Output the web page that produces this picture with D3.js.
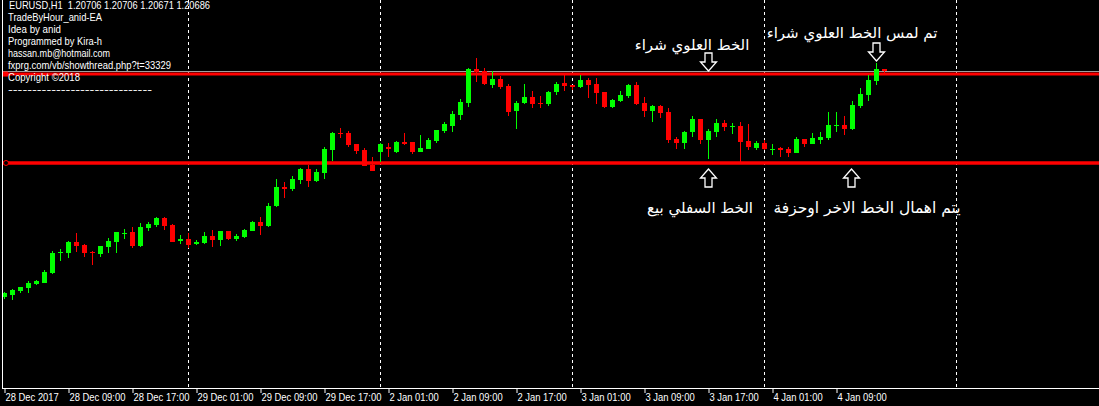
<!DOCTYPE html>
<html>
<head>
<meta charset="utf-8">
<script src="https://cdn.jsdelivr.net/npm/d3@7"></script>
<style>
body { margin: 0; background: #000; overflow: hidden; }
svg { display: block; }
</style>
</head>
<body>
<svg width="1099" height="406"></svg>
<script>
var svg = d3.select("svg");
var width = +svg.attr("width");
var plotBottom = 388;

// hourly sessions shown on the chart (day, first hour, last hour)
var sessions = [["28 Dec", 1, 23], ["29 Dec", 0, 23], ["2 Jan", 0, 23], ["3 Jan", 0, 23], ["4 Jan", 0, 15]];

var opens = [1.18805,1.18822,1.18855,1.18880,1.18913,1.18922,1.19005,1.19172,1.19172,1.19263,1.19238,1.19180,1.19163,1.19222,1.19263,1.19330,1.19347,1.19230,1.19380,1.19405,1.19463,1.19405,1.19272,
  1.19288,1.19247,1.19255,1.19313,1.19280,1.19355,1.19288,1.19305,1.19355,1.19430,1.19397,1.19563,1.19722,1.19705,1.19780,1.19872,1.19772,1.19838,1.20030,1.20172,1.20172,1.20080,1.20030,1.19905,
  1.20013,1.20055,1.20013,1.20097,1.20097,1.20013,1.20038,1.20105,1.20188,1.20230,1.20322,1.20422,1.20705,1.20688,1.20572,1.20622,1.20563,1.20355,1.20422,1.20472,1.20422,1.20413,1.20513,1.20588,
  1.20572,1.20555,1.20613,1.20580,1.20513,1.20388,1.20438,1.20480,1.20572,1.20422,1.20355,1.20397,1.20347,1.20122,1.20088,1.20180,1.20288,1.20113,1.20180,1.20255,1.20222,1.20230,1.20105,1.20047,
  1.20088,1.20030,1.20047,1.20038,1.20005,1.20122,1.20080,1.20113,1.20130,1.20230,1.20238,1.20205,1.20397,1.20488,1.20605,1.20706];
var highs = [1.18847,1.18872,1.18888,1.18938,1.18947,1.19030,1.19188,1.19205,1.19272,1.19338,1.19247,1.19188,1.19230,1.19297,1.19347,1.19372,1.19388,1.19422,1.19430,1.19472,1.19472,1.19413,1.19322,
  1.19338,1.19280,1.19347,1.19363,1.19355,1.19355,1.19330,1.19372,1.19438,1.19472,1.19588,1.19788,1.19763,1.19813,1.19880,1.19905,1.19872,1.20055,1.20180,1.20213,1.20188,1.20080,1.20047,1.19972,
  1.20088,1.20088,1.20105,1.20172,1.20097,1.20155,1.20130,1.20197,1.20263,1.20355,1.20455,1.20713,1.20797,1.20713,1.20688,1.20647,1.20580,1.20438,1.20580,1.20522,1.20480,1.20522,1.20597,1.20655,
  1.20572,1.20655,1.20630,1.20630,1.20513,1.20455,1.20522,1.20580,1.20597,1.20472,1.20405,1.20405,1.20380,1.20138,1.20188,1.20313,1.20288,1.20205,1.20288,1.20280,1.20255,1.20263,1.20247,1.20105,
  1.20113,1.20080,1.20055,1.20055,1.20138,1.20122,1.20172,1.20180,1.20347,1.20347,1.20313,1.20438,1.20547,1.20655,1.20755,1.20706];
var lows = [1.18788,1.18780,1.18838,1.18838,1.18905,1.18922,1.18997,1.19105,1.19130,1.19180,1.19138,1.19072,1.19138,1.19172,1.19172,1.19288,1.19213,1.19222,1.19355,1.19388,1.19363,1.19263,1.19247,
  1.19213,1.19238,1.19247,1.19222,1.19230,1.19280,1.19272,1.19297,1.19355,1.19322,1.19388,1.19555,1.19630,1.19688,1.19747,1.19722,1.19763,1.19788,1.19938,1.20130,1.20055,1.19997,1.19897,1.19855,
  1.19930,1.19972,1.20005,1.20072,1.19997,1.20013,1.20038,1.20088,1.20172,1.20180,1.20280,1.20388,1.20597,1.20572,1.20547,1.20538,1.20313,1.20205,1.20413,1.20380,1.20380,1.20397,1.20488,1.20522,
  1.20530,1.20547,1.20463,1.20413,1.20380,1.20380,1.20430,1.20463,1.20405,1.20305,1.20263,1.20297,1.20088,1.20038,1.20038,1.20138,1.20080,1.19955,1.20138,1.20188,1.20163,1.19930,1.20030,1.20030,
  1.20030,1.19988,1.19972,1.19972,1.20005,1.20055,1.20080,1.20080,1.20113,1.20180,1.20155,1.20197,1.20380,1.20438,1.20572,1.20671];
var closes = [1.18838,1.18863,1.18888,1.18922,1.18938,1.19013,1.19172,1.19180,1.19263,1.19230,1.19172,1.19172,1.19230,1.19272,1.19347,1.19338,1.19230,1.19388,1.19413,1.19463,1.19397,1.19263,1.19288,
  1.19238,1.19263,1.19313,1.19280,1.19355,1.19288,1.19313,1.19363,1.19430,1.19397,1.19563,1.19722,1.19705,1.19788,1.19872,1.19772,1.19847,1.20038,1.20172,1.20163,1.20072,1.20022,1.19897,1.19855,
  1.20080,1.20038,1.20097,1.20080,1.20013,1.20047,1.20113,1.20197,1.20247,1.20330,1.20430,1.20705,1.20680,1.20580,1.20622,1.20555,1.20347,1.20422,1.20472,1.20413,1.20413,1.20513,1.20580,1.20563,
  1.20555,1.20613,1.20572,1.20505,1.20388,1.20447,1.20488,1.20572,1.20413,1.20355,1.20397,1.20338,1.20113,1.20088,1.20180,1.20288,1.20113,1.20188,1.20255,1.20222,1.20230,1.20097,1.20055,1.20088,
  1.20038,1.20038,1.20030,1.20005,1.20122,1.20080,1.20130,1.20138,1.20238,1.20238,1.20205,1.20405,1.20497,1.20613,1.20705,1.20686];

var tickTimes = ["28 Dec 01:00","28 Dec 09:00","28 Dec 17:00","29 Dec 01:00","29 Dec 09:00","29 Dec 17:00","2 Jan 01:00","2 Jan 09:00","2 Jan 17:00","3 Jan 01:00","3 Jan 09:00","3 Jan 17:00","4 Jan 01:00","4 Jan 09:00"];
var tickLabels = ["28 Dec 2017","28 Dec 09:00","28 Dec 17:00","29 Dec 01:00","29 Dec 09:00","29 Dec 17:00","2 Jan 01:00","2 Jan 09:00","2 Jan 17:00","3 Jan 01:00","3 Jan 09:00","3 Jan 17:00","4 Jan 01:00","4 Jan 09:00"];

var upperLine = 1.20663;   // buy line
var lowerLine = 1.19922;   // sell line
var bidPrice = 1.20686;

var infoLines = ["TradeByHour_anid-EA", "Idea by anid", "Programmed by Kira-h", "hassan.mb@hotmail.com",
  "fxprg.com/vb/showthread.php?t=33329", "Copyright \u00a92018", "------------------------------"];
// widths the terminal font gives these lines
var infoWidths = [94, 53, 94, 102, 163, 72, 144];

// build bar times
var times = [];
sessions.forEach(function(s) {
  for (var h = s[1]; h <= s[2]; h++) times.push(s[0] + " " + (h < 10 ? "0" : "") + h + ":00");
});
var data = times.map(function(t, i) {
  return {t: t, i: i, o: opens[i], h: highs[i], l: lows[i], c: closes[i]};
});

// scales: 8px per bar, chart shifted from the right edge
var slots = Math.ceil((width - 4) / 8);
var x = d3.scaleLinear().domain([0, slots]).range([4, 4 + 8 * slots]);
var y = d3.scaleLinear().domain([1.18047, 1.21280]).range([plotBottom, 0]);

svg.append("rect").attr("width", width).attr("height", 406).attr("fill", "#000");

// day separators (midnight bars + next day)
var sepIdx = data.filter(function(d) { return d.t.slice(-5) == "00:00"; }).map(function(d) { return d.i; });
sepIdx.push(sepIdx[sepIdx.length - 1] + 24);
svg.selectAll(".sep")
  .data(sepIdx)
  .enter().append("line")
  .attr("class", "sep")
  .attr("x1", function(d) { return x(d) + 0.5; })
  .attr("x2", function(d) { return x(d) + 0.5; })
  .attr("y1", 0).attr("y2", plotBottom)
  .attr("stroke", "#fff")
  .attr("stroke-dasharray", "3,3");

// bid line
svg.append("line")
  .attr("x1", 3).attr("x2", width)
  .attr("y1", Math.round(y(bidPrice)) + 0.5).attr("y2", Math.round(y(bidPrice)) + 0.5)
  .attr("stroke", "#a0a0a0");

// horizontal trade lines
svg.append("line")
  .attr("x1", 3).attr("x2", width)
  .attr("y1", y(upperLine)).attr("y2", y(upperLine))
  .attr("stroke", "#ff0000").attr("stroke-width", 3);
svg.append("line")
  .attr("x1", 3).attr("x2", width)
  .attr("y1", y(lowerLine)).attr("y2", y(lowerLine))
  .attr("stroke", "#ff0000").attr("stroke-width", 3.5);
svg.append("rect")
  .attr("x", 3).attr("y", y(upperLine) - 2.5).attr("width", 5).attr("height", 5)
  .attr("fill", "#ff0000");
svg.append("circle")
  .attr("cx", 6).attr("cy", y(lowerLine)).attr("r", 2.5)
  .attr("fill", "#000").attr("stroke", "#ff0000");

// candles
var candle = svg.append("g").selectAll("g")
  .data(data)
  .enter().append("g")
  .attr("fill", function(d) { return d.c >= d.o ? "#00ff00" : "#ff0000"; });

candle.append("rect")
  .attr("x", function(d) { return x(d.i); })
  .attr("width", 1)
  .attr("y", function(d) { return Math.round(y(d.h)); })
  .attr("height", function(d) { return Math.max(1, Math.round(y(d.l)) - Math.round(y(d.h))); });

candle.append("rect")
  .attr("x", function(d) { return x(d.i) - 2; })
  .attr("width", 5)
  .attr("y", function(d) { return Math.round(y(Math.max(d.o, d.c))); })
  .attr("height", function(d) {
    return Math.max(1, Math.round(y(Math.min(d.o, d.c))) - Math.round(y(Math.max(d.o, d.c))));
  });

// borders
svg.append("line").attr("x1", 2.5).attr("x2", 2.5).attr("y1", 0).attr("y2", plotBottom)
  .attr("stroke", "#fff");
svg.append("line").attr("x1", 2).attr("x2", width).attr("y1", plotBottom + 0.5).attr("y2", plotBottom + 0.5)
  .attr("stroke", "#fff");

// time axis
var tickIdx = tickTimes.map(function(t) { return times.indexOf(t); });
var axis = svg.append("g")
  .attr("transform", "translate(0," + (plotBottom + 1) + ")")
  .call(d3.axisBottom(x)
    .tickValues(tickIdx)
    .tickSize(4)
    .tickFormat(function(d, i) { return tickLabels[i]; }));
axis.select(".domain").remove();
axis.selectAll(".tick line").attr("stroke", "#fff").attr("transform", "translate(0.5,0)");
axis.selectAll(".tick text")
  .attr("fill", "#fff")
  .attr("text-anchor", "start")
  .attr("x", 1).attr("y", 5).attr("dy", "0.71em")
  .attr("font-family", "Liberation Sans, Arial, sans-serif")
  .attr("font-size", "10px")
  .each(function() {
    var t = d3.select(this);
    t.attr("textLength", this.getComputedTextLength() * 0.94).attr("lengthAdjust", "spacingAndGlyphs");
  });

// header text
var last = data[data.length - 1];
var info = svg.append("g")
  .attr("font-family", "Liberation Sans, Arial, sans-serif")
  .attr("font-size", "11px")
  .attr("fill", "#fff");
info.append("text")
  .attr("x", 9).attr("y", 8.5)
  .attr("xml:space", "preserve")
  .attr("textLength", 201).attr("lengthAdjust", "spacingAndGlyphs")
  .text("EURUSD,H1  " + [last.o, last.h, last.l, last.c].map(function(v) { return v.toFixed(5); }).join(" "));
info.selectAll(".info")
  .data(infoLines)
  .enter().append("text")
  .attr("class", "info")
  .attr("x", 8)
  .attr("y", function(d, i) { return 20.5 + i * 12; })
  .attr("textLength", function(d, i) { return infoWidths[i]; })
  .attr("lengthAdjust", "spacingAndGlyphs")
  .text(function(d) { return d; });

// arabic notes and arrows
var notes = [
  {text: "الخط العلوي شراء", x: 692, y: 50},
  {text: "تم لمس الخط العلوي شراء", x: 852, y: 38},
  {text: "الخط السفلي بيع", x: 700, y: 213},
  {text: "يتم اهمال الخط الاخر اوحزفة", x: 867, y: 213}
];
svg.selectAll(".note")
  .data(notes)
  .enter().append("text")
  .attr("class", "note")
  .attr("x", function(d) { return d.x; })
  .attr("y", function(d) { return d.y; })
  .attr("text-anchor", "middle")
  .attr("direction", "rtl")
  .attr("font-family", "DejaVu Sans, sans-serif")
  .attr("font-size", function(d, i) { return i == 3 ? "15.5px" : "15px"; })
  .attr("fill", "#fff")
  .text(function(d) { return d.text; });

// hollow arrows: tip at (x, y), pointing down (dir 1) or up (dir -1)
var arrows = [
  {x: 708, y: 71, dir: 1},
  {x: 876, y: 61, dir: 1},
  {x: 708, y: 169, dir: -1},
  {x: 851, y: 169, dir: -1}
];
var arrowShape = [[0, 0], [-8, -9], [-3.5, -9], [-3.5, -18], [3.5, -18], [3.5, -9], [8, -9]];
svg.selectAll(".arrow")
  .data(arrows)
  .enter().append("path")
  .attr("class", "arrow")
  .attr("transform", function(d) { return "translate(" + (d.x + 0.5) + "," + d.y + ") scale(1," + d.dir + ")"; })
  .attr("d", d3.line()(arrowShape) + "Z")
  .attr("fill", "#000")
  .attr("stroke", "#fff")
  .attr("stroke-width", 1.3)
  .attr("stroke-linejoin", "miter");
</script>
</body>
</html>
